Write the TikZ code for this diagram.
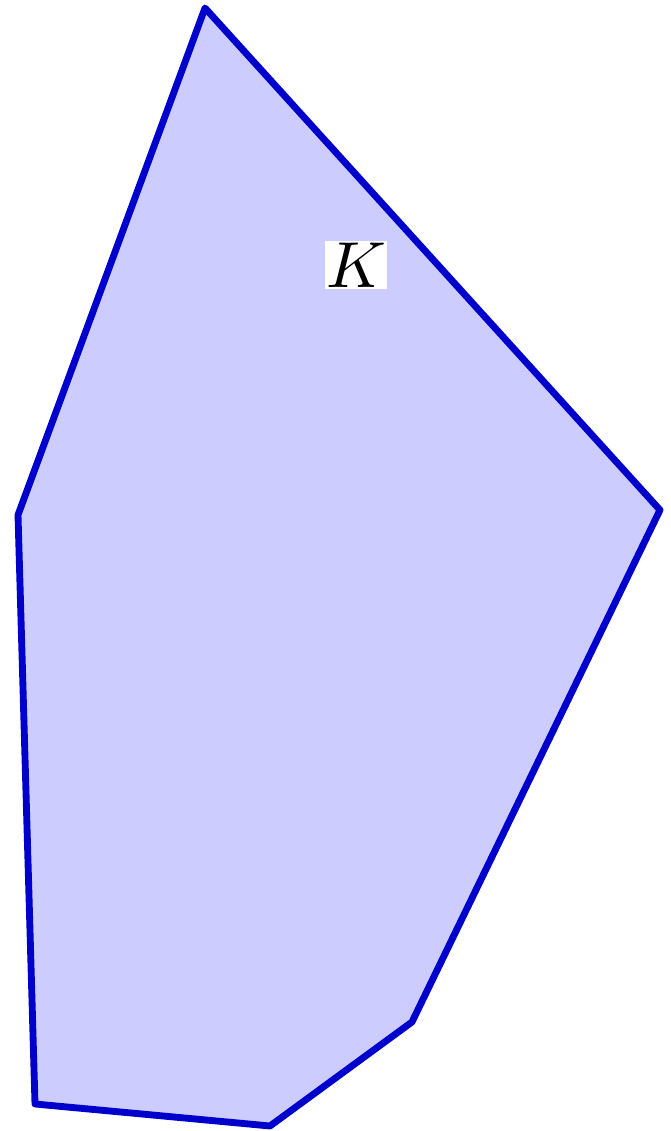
\documentclass[tikz,border=0pt]{standalone}
\usepackage{tikz}

\begin{document}
\begin{tikzpicture}

% Colori
\definecolor{colBordo}{RGB}{0,0,204}
\definecolor{colInterno}{RGB}{204,204,255}

% Area del disegno (671x1131 px, 1 px = 0.02 cm)
\useasboundingbox (0,0) rectangle (13.42,22.62);

% Vertici del poligono
\coordinate (A) at (4.10,22.46);
\coordinate (B) at (13.20,12.42);
\coordinate (C) at (8.24,2.18);
\coordinate (D) at (5.40,0.10);
\coordinate (E) at (0.70,0.54);
\coordinate (F) at (0.36,12.32);

% Insieme K
\filldraw[fill=colInterno, draw=colBordo, line width=3.9pt, line join=round]
(A) -- (B) -- (C) -- (D) -- (E) -- (F) -- cycle;

% Etichetta
\node[fill=white, inner sep=0.2pt, scale=3.7] (labK) at (7.12,17.32) {$K$};

\end{tikzpicture}
\end{document}
